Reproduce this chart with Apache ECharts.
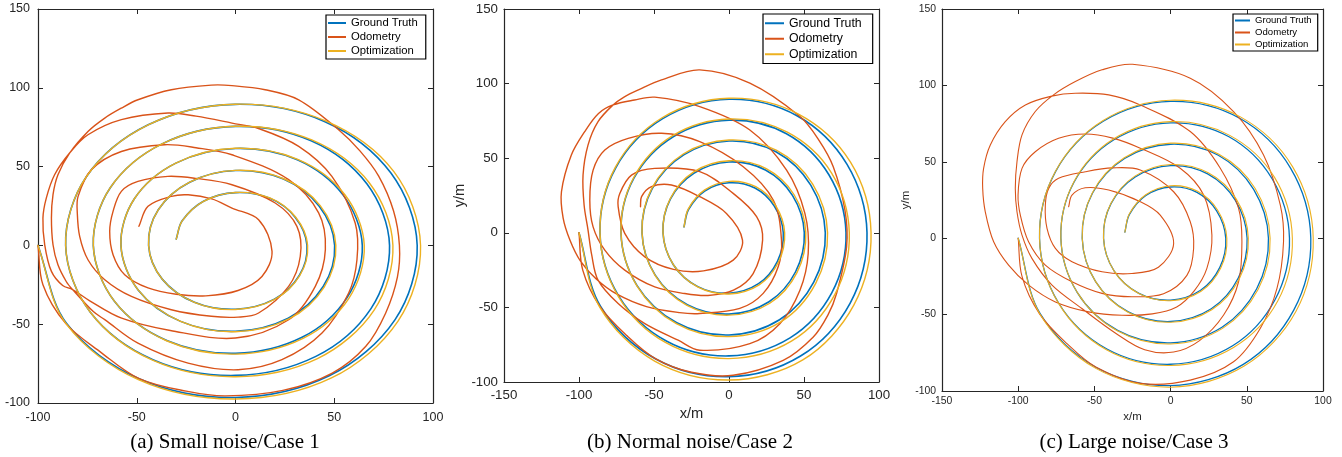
<!DOCTYPE html>
<html>
<head>
<meta charset="utf-8">
<title>Trajectories</title>
<script src="https://cdn.jsdelivr.net/npm/echarts@6/dist/echarts.min.js"></script>
<style>
html, body { margin: 0; padding: 0; background: #fff; }
#chart { width: 1342px; height: 457px; }
</style>
</head>
<body>
<div id="chart"></div>
<script>
// axis ranges / ticks
var xRangeA = [-100, 100];
var xRangeBC = [-150, 100];
var yRange = [-100, 150];
var tickStep = 50;

var seriesNames = ['Ground Truth', 'Odometry', 'Optimization'];
var seriesColors = ['#0072BD', '#D95319', '#EDB120'];
var captions = ['(a) Small noise/Case 1', '(b) Normal noise/Case 2', '(c) Large noise/Case 3'];

// ground truth, the same spiral in all three cases
var groundTruth = [
  [-30, 4], [-27.0, 15.6], [-16.2, 28.0], [0, 33.5], [17.3, 30.0], [30.2, 17.9], [36.2, 0], [32.3, -19.1], [19.7, -34.1], [0, -40.5], [-20.8, -36.1], [-37.1, -21.4], [-44.0, 0],
  [-39.1, 22.6], [-23.2, 40.1], [0, 47.5], [24.3, 42.1], [42.4, 24.9], [50.2, 0], [44.4, -26.1], [26.7, -46.2], [0, -54.5], [-27.8, -48.2], [-49.2, -28.4], [-58.0, 0],
  [-51.2, 29.6], [-30.2, 52.2], [0, 61.5], [31.3, 54.3], [54.5, 31.9], [64.2, 0], [56.5, -33.1], [33.7, -58.3], [0, -68.5], [-34.8, -60.3], [-61.3, -35.4], [-72.0, 0],
  [-63.4, 36.6], [-37.2, 64.4], [0, 75.5], [38.3, 66.4], [66.6, 38.9], [78.0, 0], [68.6, -40.1], [40.7, -70.4], [0, -82.5], [-41.8, -72.5], [-73.5, -42.4], [-86.0, 0],
  [-75.5, 43.6], [-44.2, 76.5], [0, 89.5], [45.3, 78.5], [78.7, 45.9], [92.0, 0], [80.8, -47.1], [47.7, -82.6], [0, -96.5], [-48.8, -84.6], [-85.6, -49.4], [-100, 0]
];

// case 1, small noise
var odometryA = [
  [-100, 0], [-97.5, -25], [-86, -49.5], [-68, -68], [-48.8, -84.5], [-25, -92.5], [-5, -95.5], [24, -92], [49, -81], [66, -64], [76, -43], [82, -20], [83, 0],
  [80, 22], [72.5, 44], [63, 60], [52.2, 73.4], [32, 92.4], [15, 98.8], [-1.8, 101.4], [-12.2, 101.7], [-32.5, 98.8], [-49.4, 92.4], [-57.8, 87.1], [-66.2, 80.8],
  [-74.7, 72.3], [-84, 58.6], [-89.9, 44.8], [-92.4, 32.2], [-93.2, 17.4], [-92.4, 0.4], [-89.9, -12.3], [-85.7, -22.9], [-82.5, -28], [-72, -42], [-66.2, -47.1],
  [-49.4, -62], [-24, -74.7], [1.3, -78.9], [23.5, -72.5], [43.8, -55.6], [57.3, -30.2], [61.5, -9.1], [60.6, 14.2], [48.8, 43.8], [32, 62.8], [12, 74], [-1.8, 77.6],
  [-20, 82], [-34.2, 84], [-57.8, 79.8], [-74.7, 70.2], [-84, 58.6], [-91.6, 44.8], [-95.8, 30], [-97.5, 17.3], [-96.6, 0.4], [-93.2, -16.5], [-87.5, -25.5],
  [-82.5, -28], [-74, -35], [-58, -46], [-33, -54], [0, -58.8], [26.9, -47.2], [40.4, -26], [45.5, -2.7], [42.1, 20.6], [26.9, 41.7], [-1.8, 57.5], [-20, 62],
  [-35.9, 63.9], [-57.8, 59.6], [-73, 48], [-79.7, 31.1], [-80.1, 20.5], [-78.9, 5.7], [-74.7, -9.1], [-66.2, -21.8], [-52.7, -32.4], [-32.5, -40.8], [-12.2, -45],
  [1.3, -45.5], [11.7, -42.9], [26.9, -26], [32.8, -6.9], [31.1, 12.1], [20.1, 26.9], [-1.8, 38.5], [-20, 42.5], [-34.2, 43.8], [-49.4, 40.6], [-57.8, 34.3],
  [-62, 21.6], [-63.7, 8.9], [-62, -5.9], [-56.1, -18.6], [-44.3, -27], [-30, -31], [-15, -32], [1.3, -28.6], [13.4, -19.7], [18.5, -3.8], [11.7, 16.3],
  [-1.8, 23.7], [-12, 29.5], [-24, 32.1], [-32.5, 31.1], [-44.3, 24.8], [-48.9, 12.1]
];
var optimizationA = [
  [-30, 4], [-27.0, 15.6], [-16.2, 28.0], [0, 33.6], [17.4, 30.1], [30.4, 18.0], [36.5, 0], [32.5, -19.2], [19.8, -34.3], [0, -40.7], [-20.8, -36.1], [-37.1, -21.4], [-44.0, 0],
  [-39.1, 22.6], [-23.2, 40.1], [0, 47.6], [24.4, 42.3], [42.9, 25.2], [50.8, 0], [44.9, -26.4], [27.0, -46.7], [0, -54.8], [-27.8, -48.2], [-49.2, -28.4], [-58.0, 0],
  [-51.2, 29.6], [-30.2, 52.2], [0, 61.6], [31.5, 54.6], [55.3, 32.3], [65.2, 0], [57.4, -33.6], [34.2, -59.0], [0, -69.0], [-34.9, -60.5], [-61.3, -35.4], [-72.0, 0],
  [-63.4, 36.6], [-37.2, 64.4], [0, 75.6], [38.6, 66.9], [67.8, 39.6], [79.7, 0], [70.2, -41.0], [41.5, -71.8], [0, -83.3], [-42.0, -72.8], [-73.5, -42.4], [-86.0, 0],
  [-75.5, 43.6], [-44.2, 76.5], [0, 89.6], [45.6, 79.0], [80.2, 46.8], [93.7, 0], [82.3, -48.0], [48.6, -84.1], [0, -97.5], [-49.2, -85.2], [-85.8, -49.6], [-100, 0]
];

// case 2, normal noise
var odometryB = [
  [-100, 0], [-97.5, -25], [-86, -49.5], [-68, -69], [-48.8, -84.5], [-25, -93.5], [2.8, -95.5], [36.1, -85.5], [56.2, -69.8], [66, -55], [71.7, -40.7], [78.4, -9.4],
  [77.3, 15.2], [69.5, 44.3], [60, 62], [47.3, 77.9], [13.9, 100.3], [-19.5, 109.2], [-45, 102.5], [-60, 96], [-70, 91], [-77.3, 85.7], [-87.3, 74.5], [-94, 58.8],
  [-97.3, 38.7], [-96.6, 18.6], [-94, 2], [-91.5, -15], [-87.3, -31.7], [-73.9, -47.4], [-56.1, -60.9], [-33.9, -72], [-19.5, -78.7], [13.9, -74.3], [33.9, -60.9],
  [47.3, -38.5], [52.8, -13.9], [50.6, 13], [38.4, 42], [13.9, 68.9], [-19.5, 84.6], [-49.5, 90.9], [-63, 89], [-77.3, 85.7], [-87, 80], [-96.2, 67.8], [-105.1, 52.1],
  [-111.7, 27.5], [-110.6, 10], [-106, -5], [-99, -19], [-88.5, -31], [-75, -41], [-55, -49.5], [-33, -53.5], [-19.5, -54.1], [7.2, -50.7], [22.8, -40.6],
  [32.8, -22.8], [35, -4.9], [29.5, 22], [9.5, 44.3], [-19.5, 61.1], [-45, 66.7], [-67.2, 63.3], [-82.8, 55.5], [-90.6, 42], [-92.8, 21.9], [-90.6, 4], [-82.8, -11.6],
  [-69.5, -25], [-49.5, -36.3], [-29.5, -40.7], [-14, -42], [3, -38.5], [16.1, -27.3], [22.4, -4.9], [18.4, 10.8], [2.8, 26.4], [-19.5, 41], [-49.5, 43.2],
  [-65, 38.7], [-72.8, 26.4], [-73.9, 17.5], [-69.5, -0.4], [-56.1, -16.1], [-37, -24.5], [-17, -25.5], [2.8, -18.3], [9, -4.9], [-1.7, 13], [-19.5, 24.2],
  [-38.4, 32], [-51.7, 30.9], [-58.3, 24.2], [-59, 17.5]
];
var optimizationB = [
  [-30, 4], [-27.2, 15.9], [-16.4, 28.6], [0, 34.5], [17.8, 30.9], [31.0, 18.4], [37.1, 0], [33.0, -19.6], [20.1, -34.9], [0, -41.0], [-20.9, -36.3], [-37.1, -21.4], [-44.0, 0],
  [-39.2, 22.8], [-23.5, 40.8], [0, 48.3], [24.8, 43.0], [43.4, 25.5], [51.2, 0], [45.3, -26.7], [27.2, -47.2], [0, -55.2], [-28.0, -48.6], [-49.3, -28.5], [-58.0, 0],
  [-51.4, 29.9], [-30.5, 52.8], [0, 62.2], [31.8, 55.2], [55.8, 32.7], [65.7, 0], [57.8, -33.9], [34.5, -59.7], [0, -69.6], [-35.1, -60.9], [-61.4, -35.5], [-72.0, 0],
  [-63.6, 36.9], [-37.6, 65.1], [0, 76.3], [38.9, 67.4], [68.4, 40.0], [80.2, 0], [70.6, -41.3], [41.9, -72.5], [0, -84.3], [-42.4, -73.5], [-73.8, -42.6], [-86.0, 0],
  [-75.8, 43.9], [-44.6, 77.1], [0, 90.2], [46.0, 79.7], [81.0, 47.3], [94.7, 0], [83.2, -48.5], [49.2, -85.2], [0, -98.7], [-49.6, -86.0], [-86.2, -49.8], [-100, 0]
];

// case 3, large noise
var odometryC = [
  [-100, 0], [-97.5, -25], [-86, -49.5], [-68, -69], [-48.8, -84.5], [-19.9, -95], [12.9, -92.9], [41.3, -80.9], [58.8, -59.1], [69.8, -32.9], [74.1, -2.3],
  [72, 21.7], [61, 54.5], [41.3, 82.9], [12.9, 104.7], [-25, 113.8], [-45, 110.2], [-62.5, 102.5], [-76.8, 93.8], [-88.8, 82.9], [-97.5, 67.6],
  [-100.8, 50], [-101.9, 32.6], [-100.8, 17.3], [-97.5, 2], [-91, -13.2], [-77.8, -30.7], [-58.2, -46], [-36.3, -62], [-17, -73], [2, -74.5], [19, -67],
  [34.8, -50.3], [44.6, -28.5], [46.8, -2.3], [44.6, 19.5], [32.6, 45.8], [12.9, 69.8], [-19.9, 87.2], [-40.6, 93.8], [-62.5, 94.9], [-78, 93], [-95.3, 87.2],
  [-108.5, 76.3], [-118.3, 61], [-122.7, 45.7], [-123.3, 32.6], [-121.6, 17.3], [-116.1, -2.3], [-106.3, -17.6], [-93.1, -30.7], [-75.6, -41.7], [-53.8, -48.2],
  [-31.9, -50.4], [-12, -49.5], [4, -45], [15.5, -34.5], [23.8, -19.8], [27.1, 2], [21.7, 28.2], [6.3, 45.8], [-19.9, 58.9], [-38, 65.5], [-55.9, 68.2],
  [-73.5, 65.4], [-88.8, 56.6], [-97.5, 45.7], [-100.1, 28.2], [-98.6, 15.1], [-93.2, -2.3], [-82.2, -17.6], [-64.7, -28.5], [-45, -36.1], [-25.4, -38.3],
  [-4.6, -36.3], [10.7, -24.3], [15.1, -6.7], [12.9, 10.8], [2, 30.4], [-19.9, 44.6], [-38, 46], [-55.9, 43.5], [-73.5, 39.2], [-80, 32.6], [-82.2, 21.7],
  [-81.1, 6.4], [-75.6, -6.7], [-64.7, -15.4], [-45, -22], [-25.4, -23.1], [-8, -19], [2, -3.4], [-6.8, 15.1], [-19.9, 23.9], [-40.6, 31.5],
  [-56, 33], [-64.7, 28.2], [-66.9, 20.6]
];
var optimizationC = [
  [-30, 4], [-27.1, 15.8], [-16.3, 28.4], [0, 34.3], [17.7, 30.7], [30.9, 18.3], [36.9, 0], [32.9, -19.5], [20.0, -34.7], [0, -40.9], [-20.9, -36.2], [-37.1, -21.4], [-44.0, 0],
  [-39.2, 22.7], [-23.4, 40.6], [0, 48.2], [24.7, 42.8], [43.2, 25.4], [51.0, 0], [45.1, -26.5], [27.0, -46.8], [0, -55.0], [-27.9, -48.4], [-49.2, -28.4], [-58.0, 0],
  [-51.3, 29.8], [-30.4, 52.6], [0, 62.2], [31.7, 55.0], [55.5, 32.5], [65.3, 0], [57.4, -33.6], [34.1, -59.0], [0, -69.2], [-35.0, -60.6], [-61.3, -35.4], [-72.0, 0],
  [-63.5, 36.8], [-37.5, 64.9], [0, 76.3], [38.8, 67.3], [68.2, 39.8], [79.9, 0], [70.3, -41.1], [41.3, -71.5], [0, -83.3], [-42.1, -73.0], [-73.6, -42.5], [-86.0, 0],
  [-75.6, 43.7], [-44.5, 76.9], [0, 90.3], [45.8, 79.4], [80.1, 46.7], [93.6, 0], [82.2, -48.0], [48.3, -83.7], [0, -97.5], [-49.1, -85.2], [-85.8, -49.6], [-100, 0]
];

var axisColor = '#262626';
var sans = '"Liberation Sans", Arial, Helvetica, sans-serif';

// one panel = one grid with box axes on four sides
var panels = [
  { grid: { left: 38, top: 9, width: 395, height: 394 }, xRange: xRangeA, font: 12.5, xMargin: 8, yMargin: 8,
    lineW: [1.6, 1.4, 1.4], data: [groundTruth, odometryA, optimizationA], names: false },
  { grid: { left: 504, top: 9, width: 375, height: 373 }, xRange: xRangeBC, font: 13.3, xMargin: 7, yMargin: 6,
    lineW: [1.6, 1.4, 1.4], data: [groundTruth, odometryB, optimizationB], names: true, nameFont: 14.7, xGap: 24, yGap: 36 },
  { grid: { left: 942, top: 9, width: 381, height: 382 }, xRange: xRangeBC, font: 10.4, xMargin: 5, yMargin: 6,
    lineW: [1.3, 1.1, 1.1], data: [groundTruth, odometryC, optimizationC], names: true, nameFont: 11.4, xGap: 17, yGap: 30 }
];
var tension = 0.34;

var legends = [
  { left: 326, top: 15, padding: [1, 8, 1, 2], itemWidth: 18, fontSize: 11.3, lineHeight: 14 },
  { left: 763, top: 14, padding: [1.5, 11, 1.5, 2], itemWidth: 19, fontSize: 12.3, lineHeight: 15.5 },
  { left: 1233, top: 14, padding: [0.5, 6, 0.5, 2], itemWidth: 15, fontSize: 9.6, lineHeight: 12 }
];
var captionX = [225, 690, 1134];

function makeAxis(gi, range, pos, p, withLabel) {
  var isX = pos === 'bottom' || pos === 'top';
  var ax = {
    type: 'value', gridIndex: gi, position: pos,
    min: range[0], max: range[1], interval: tickStep,
    axisLine: { show: true, onZero: false, lineStyle: { color: axisColor, width: 1.2 } },
    axisTick: { show: true, inside: true, length: 5, lineStyle: { color: axisColor, width: 1 } },
    axisLabel: { show: withLabel, color: axisColor, fontSize: p.font, fontFamily: sans, margin: isX ? p.xMargin : p.yMargin },
    splitLine: { show: false }
  };
  if (withLabel && p.names) {
    ax.name = isX ? 'x/m' : 'y/m';
    ax.nameLocation = 'middle';
    ax.nameGap = isX ? p.xGap : p.yGap;
    ax.nameTextStyle = { color: axisColor, fontSize: p.nameFont, fontFamily: sans };
  }
  return ax;
}

function dist(a, b) {
  var dx = a[0] - b[0], dy = a[1] - b[1];
  return Math.sqrt(dx * dx + dy * dy);
}

// whole trajectory as one smooth path, points mapped through the grid's axes
function trajectoryRenderer(points, color, width) {
  return function (params, api) {
    if (params.dataIndex !== 0) return;
    var px = points.map(function (p) { return api.coord(p); });
    var d = 'M' + px[0][0] + ' ' + px[0][1];
    for (var i = 0; i < px.length - 1; i++) {
      var p0 = px[i - 1] || px[i], p1 = px[i], p2 = px[i + 1], p3 = px[i + 2] || px[i + 1];
      var d01 = dist(p0, p1), d12 = dist(p1, p2), d23 = dist(p2, p3);
      var r1 = d01 + d12 > 0 ? d12 / (d01 + d12) : 0;
      var r2 = d12 + d23 > 0 ? d12 / (d12 + d23) : 0;
      var c1x = p1[0] + (p2[0] - p0[0]) * tension * r1, c1y = p1[1] + (p2[1] - p0[1]) * tension * r1;
      var c2x = p2[0] - (p3[0] - p1[0]) * tension * r2, c2y = p2[1] - (p3[1] - p1[1]) * tension * r2;
      d += 'C' + c1x + ' ' + c1y + ' ' + c2x + ' ' + c2y + ' ' + p2[0] + ' ' + p2[1];
    }
    return {
      type: 'path',
      shape: { pathData: d },
      style: { fill: 'none', stroke: color, lineWidth: width, lineJoin: 'round', lineCap: 'round' }
    };
  };
}

var grids = [], xAxes = [], yAxes = [], series = [];
panels.forEach(function (p, gi) {
  grids.push(Object.assign({ outerBoundsMode: 'none', containLabel: false }, p.grid));
  xAxes.push(makeAxis(gi, p.xRange, 'bottom', p, true));
  xAxes.push(makeAxis(gi, p.xRange, 'top', p, false));
  yAxes.push(makeAxis(gi, yRange, 'left', p, true));
  yAxes.push(makeAxis(gi, yRange, 'right', p, false));
  p.data.forEach(function (d, si) {
    series.push({
      name: seriesNames[si], type: 'custom', coordinateSystem: 'cartesian2d',
      xAxisIndex: gi * 2, yAxisIndex: gi * 2,
      data: d, encode: { x: 0, y: 1 },
      renderItem: trajectoryRenderer(d, seriesColors[si], p.lineW[si]),
      itemStyle: { color: seriesColors[si] },
      silent: true
    });
  });
});

var legendOpts = legends.map(function (l) {
  return {
    data: seriesNames, orient: 'vertical', left: l.left, top: l.top, padding: l.padding,
    icon: 'rect', itemWidth: l.itemWidth, itemHeight: 2, itemGap: 0,
    backgroundColor: '#fff', borderColor: '#000', borderWidth: 1.2,
    selectedMode: false,
    textStyle: { color: '#000', fontSize: l.fontSize, lineHeight: l.lineHeight, fontFamily: sans }
  };
});

var graphics = captions.map(function (c, i) {
  return {
    type: 'text', x: captionX[i], y: 442,
    style: { text: c, fill: '#000', font: '21px "Liberation Serif", "Times New Roman", serif', align: 'center', verticalAlign: 'middle' }
  };
});

var chart = echarts.init(document.getElementById('chart'), null, { renderer: 'canvas' });
chart.setOption({
  animation: false,
  backgroundColor: '#fff',
  grid: grids,
  xAxis: xAxes,
  yAxis: yAxes,
  legend: legendOpts,
  graphic: graphics,
  series: series
});
</script>
</body>
</html>
